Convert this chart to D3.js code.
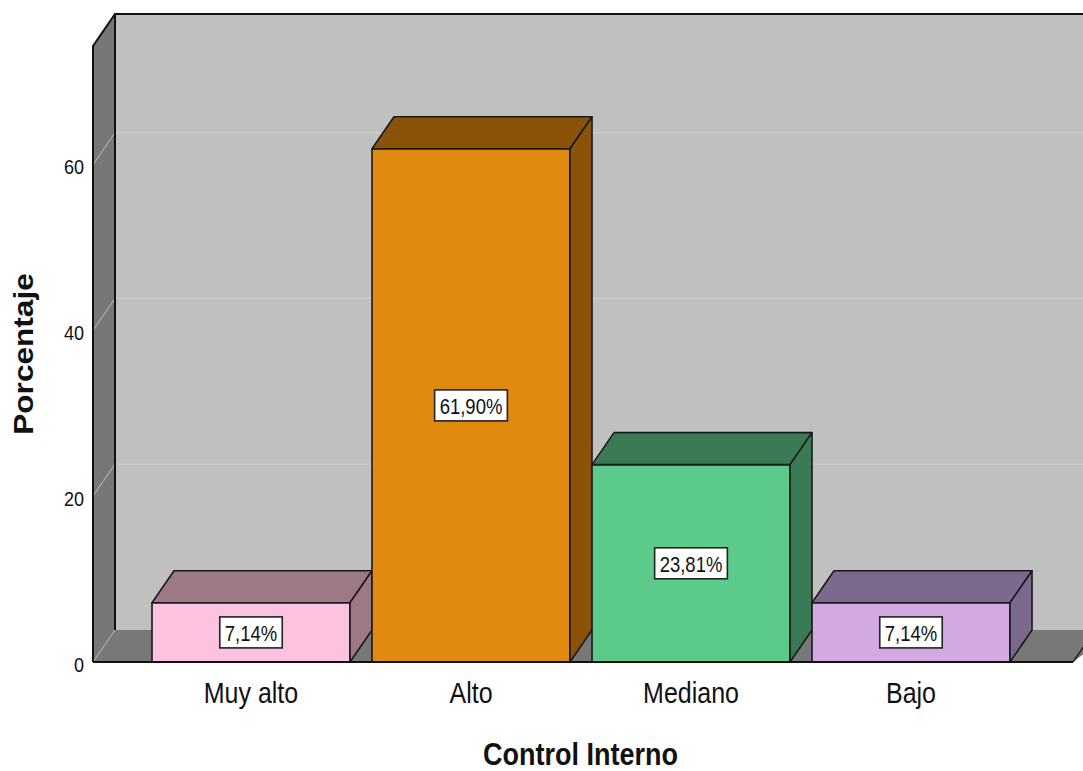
<!DOCTYPE html>
<html>
<head>
<meta charset="utf-8">
<script src="https://cdn.jsdelivr.net/npm/d3@7"></script>
<style>
  html, body { margin: 0; padding: 0; background: #fff; }
  svg { display: block; }
  text { font-family: "Liberation Sans", Arial, sans-serif; fill: #111; }
</style>
</head>
<body>
<svg id="chart" width="1083" height="771"></svg>
<script>
// Control Interno – distribution in percent
const categories = ["Muy alto", "Alto", "Mediano", "Bajo"];
const percentages = [7.14, 61.90, 23.81, 7.14];
const yTicks = [0, 20, 40, 60];
const yMax = 74.3;
const frontColors = ["#fcc2e0", "#e08a10", "#5cca8b", "#d2a9e3"];
const shadeColors = ["#9d7886", "#8a5309", "#3a7a55", "#7e698e"];

const W = 1083, H = 771;
const svg = d3.select("#chart");
const STRETCH = 1.17;             // tall, narrow lettering
const depth = { dx: 22, dy: -32 }; // 3D depth offset

const x = d3.scaleBand()
  .domain(categories)
  .range([141, 1021])
  .paddingInner(0.1)
  .paddingOuter(0.05);

const y = d3.scaleLinear().domain([0, yMax]).range([662, 46]);

const left = 93, right = 1073;
const y0 = y(0), yTop = y(yMax);
const pts = a => a.map(p => p.join(",")).join(" ");

// walls and floor
const walls = svg.append("g");
// back wall
walls.append("polygon")
  .attr("points", pts([[left + depth.dx, yTop + depth.dy], [right + depth.dx + 20, yTop + depth.dy],
                       [right + depth.dx + 20, y0 + depth.dy], [left + depth.dx, y0 + depth.dy]]))
  .attr("fill", "#c0c0c0");
// gridlines on back wall
walls.selectAll("line.grid").data(yTicks.filter(d => d > 0)).join("line")
  .attr("class", "grid")
  .attr("x1", left + depth.dx).attr("x2", right + depth.dx + 20)
  .attr("y1", d => y(d) + depth.dy).attr("y2", d => y(d) + depth.dy)
  .attr("stroke", "#cdcdcd").attr("stroke-width", 1.2);
// side wall
walls.append("polygon")
  .attr("points", pts([[left, yTop], [left + depth.dx, yTop + depth.dy],
                       [left + depth.dx, y0 + depth.dy], [left, y0]]))
  .attr("fill", "#777777");
// floor
walls.append("polygon")
  .attr("points", pts([[left, y0], [left + depth.dx, y0 + depth.dy],
                       [right + depth.dx + 20, y0 + depth.dy], [right, y0]]))
  .attr("fill", "#787878");
// gridline diagonals on side wall
walls.selectAll("line.sgrid").data(yTicks).join("line")
  .attr("class", "sgrid")
  .attr("x1", left).attr("x2", left + depth.dx)
  .attr("y1", d => y(d)).attr("y2", d => y(d) + depth.dy)
  .attr("stroke", "#a9a9a9").attr("stroke-width", 1.2);
// outlines
walls.append("path")
  .attr("d", `M${left},${y0} L${left},${yTop} L${left + depth.dx},${yTop + depth.dy} L${W + 20},${yTop + depth.dy}`)
  .attr("fill", "none").attr("stroke", "#111").attr("stroke-width", 2);
walls.append("line")
  .attr("x1", left + depth.dx).attr("x2", left + depth.dx)
  .attr("y1", yTop + depth.dy).attr("y2", y0 + depth.dy)
  .attr("stroke", "#111").attr("stroke-width", 2);
walls.append("path")
  .attr("d", `M${right},${y0} L${right + depth.dx},${y0 + depth.dy}`)
  .attr("stroke", "#222").attr("stroke-width", 1.5);

// bars
const bars = svg.append("g");
categories.forEach((c, i) => {
  const v = percentages[i];
  const bx = x(c), bw = x.bandwidth(), by = y(v);
  const g = bars.append("g")
    .attr("stroke", "#1a1a1a").attr("stroke-width", 1.6).attr("stroke-linejoin", "round");
  g.append("polygon")
    .attr("points", pts([[bx, by], [bx + bw, by], [bx + bw, y0], [bx, y0]]))
    .attr("fill", frontColors[i]);
  g.append("polygon")
    .attr("points", pts([[bx, by], [bx + depth.dx, by + depth.dy],
                         [bx + bw + depth.dx, by + depth.dy], [bx + bw, by]]))
    .attr("fill", shadeColors[i]);
  g.append("polygon")
    .attr("points", pts([[bx + bw, by], [bx + bw + depth.dx, by + depth.dy],
                         [bx + bw + depth.dx, y0 + depth.dy], [bx + bw, y0]]))
    .attr("fill", shadeColors[i]);
});
// floor front edge
svg.append("line")
  .attr("x1", left).attr("x2", right).attr("y1", y0).attr("y2", y0)
  .attr("stroke", "#111").attr("stroke-width", 2.2);

// value labels
const fmt = v => v.toFixed(2).replace(".", ",") + "%";
categories.forEach((c, i) => {
  const v = percentages[i];
  const cx = x(c) + x.bandwidth() / 2;
  const cy = (y(v) + y0) / 2;
  const g = svg.append("g").attr("transform", `translate(${cx},${cy})`);
  const rect = g.append("rect");
  const t = g.append("text")
    .attr("transform", `translate(0,${9}) scale(1,${STRETCH})`)
    .attr("text-anchor", "middle")
    .attr("font-size", 18.5)
    .text(fmt(v));
  const tw = t.node().getComputedTextLength();
  rect.attr("x", -tw / 2 - 5).attr("y", -15.5)
    .attr("width", tw + 10).attr("height", 31)
    .attr("fill", "#fff").attr("stroke", "#222").attr("stroke-width", 1.6);
});

// y axis
const yAxis = svg.append("g").attr("transform", `translate(${left},0)`)
  .call(d3.axisLeft(y).tickValues(yTicks).tickSize(0).tickPadding(9));
yAxis.select(".domain").remove();
yAxis.selectAll("text")
  .attr("font-family", null)
  .attr("font-size", 18)
  .attr("fill", "#111")
  .attr("dy", (9 / STRETCH / 18) + "em")
  .attr("transform", `scale(1,${STRETCH})`);

// x axis
const xAxis = svg.append("g").attr("transform", `translate(0,${y0})`)
  .call(d3.axisBottom(x).tickSize(0));
xAxis.select(".domain").remove();
xAxis.selectAll("text")
  .attr("font-family", null)
  .attr("font-size", 25)
  .attr("fill", "#222")
  .attr("y", 41 / STRETCH)
  .attr("dy", 0)
  .attr("transform", `scale(1,${STRETCH})`);

// axis titles
svg.append("text")
  .attr("transform", `translate(580.5,765) scale(1,${STRETCH})`)
  .attr("text-anchor", "middle")
  .attr("font-size", 27).attr("font-weight", "bold")
  .text("Control Interno");
svg.append("text")
  .attr("transform", `translate(33,354) scale(1,${STRETCH}) rotate(-90)`)
  .attr("text-anchor", "middle")
  .attr("font-size", 27).attr("font-weight", "bold")
  .text("Porcentaje");
</script>
</body>
</html>
